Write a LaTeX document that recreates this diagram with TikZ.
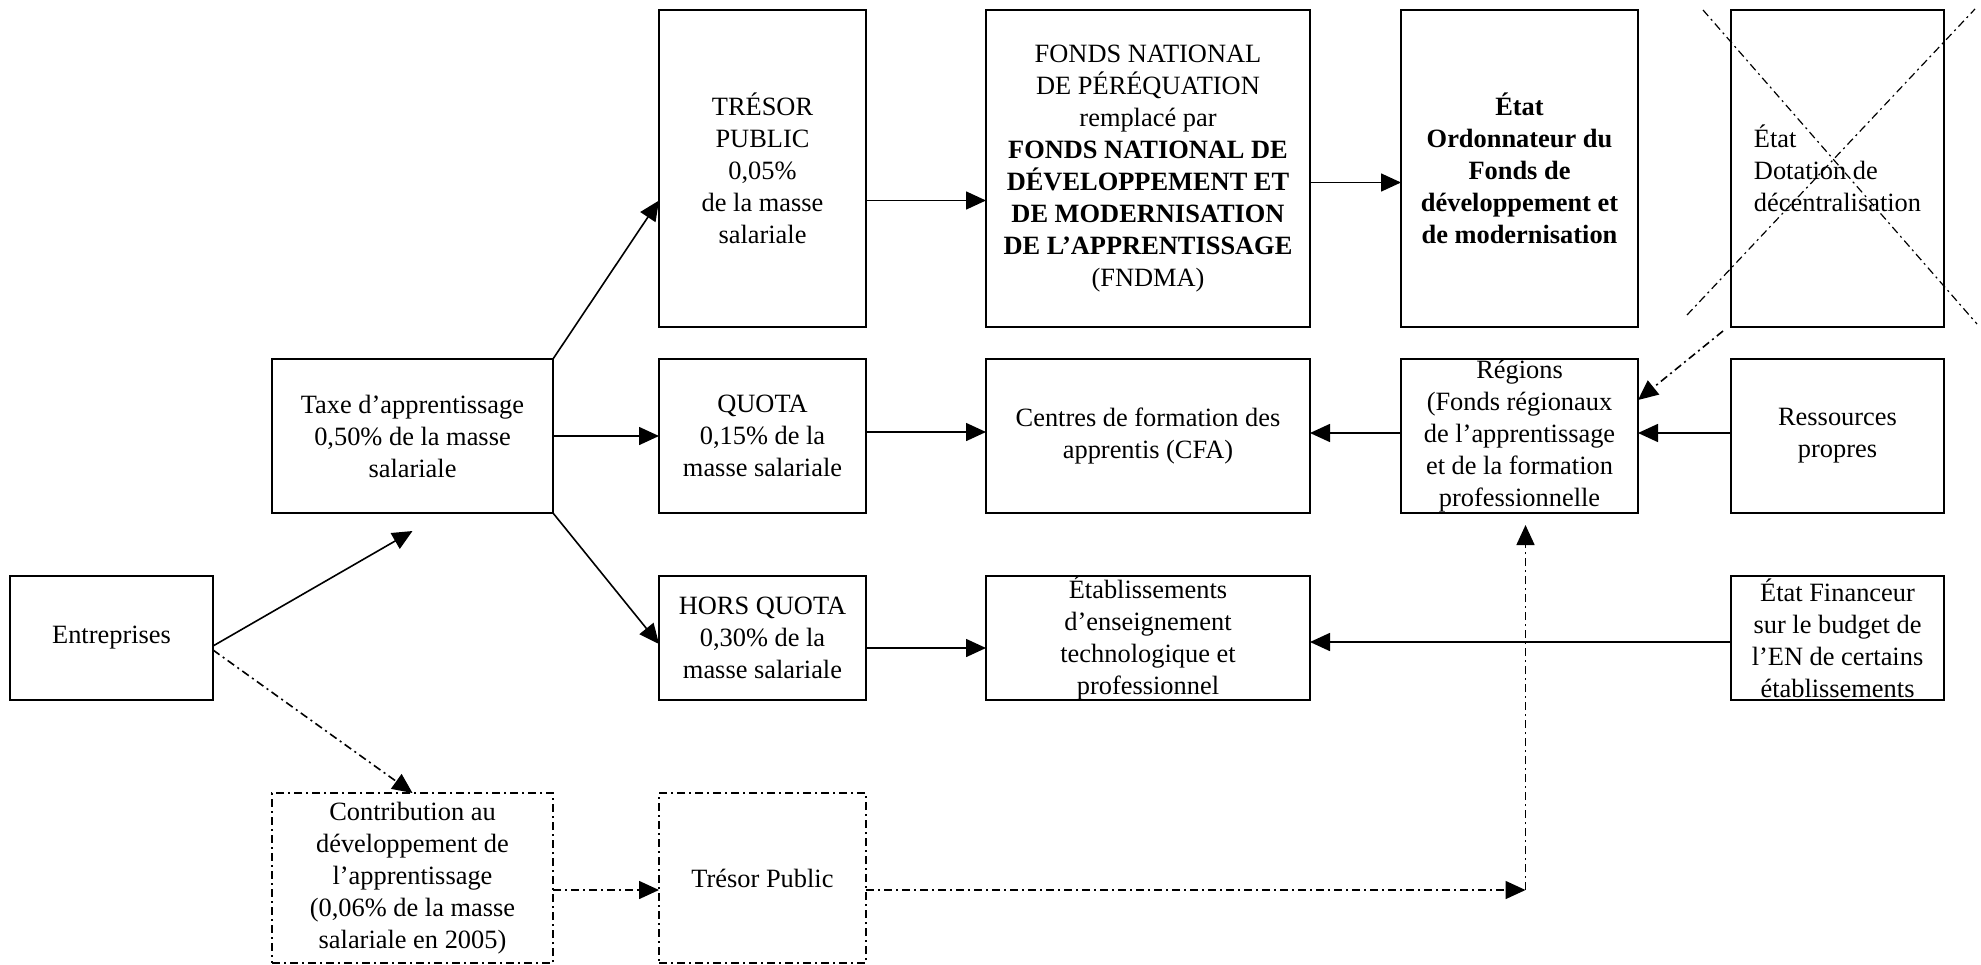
\documentclass[tikz,border=0pt]{standalone}
\usepackage{fontspec}
\setmainfont{Liberation Serif}
\usetikzlibrary{arrows.meta,positioning,calc}

\begin{document}
\begin{tikzpicture}[
  box/.style={draw, line width=1pt, align=center, inner xsep=3pt, inner ysep=0pt, outer sep=0pt, font=\fontsize{13.2}{16}\selectfont},
  dbox/.style={box, dash pattern=on 4pt off 2pt on 1pt off 2pt},
  tall/.style={minimum height=158.5pt},
  mid/.style={minimum height=77pt},
  low/.style={minimum height=62pt},
  base/.style={minimum height=85pt},
  arrow/.style={-{Triangle[length=10pt,width=9pt]}, line width=0.8pt},
  darrow/.style={arrow, dash pattern=on 4pt off 2pt on 1pt off 2pt},
  cross/.style={line width=0.6pt, dash pattern=on 4pt off 2pt on 1pt off 2pt}
]
\useasboundingbox (0,0) rectangle (990.5pt,-482pt);
\node[box, tall, minimum width=103.5pt, anchor=north west] (tresor) at (329.5pt,-5pt) {TRÉSOR\\PUBLIC\\0,05\%\\de la masse\\salariale};
\node[box, mid, minimum width=103.5pt, below=16pt of tresor] (quota) {QUOTA\\0,15\% de la\\masse salariale};
\node[box, low, minimum width=103.5pt, below=31.5pt of quota] (hors) {HORS QUOTA\\0,30\% de la\\masse salariale};
\node[dbox, base, minimum width=103.5pt, below=46.5pt of hors] (tresorpub) {Trésor Public};
\node[box, mid, minimum width=140.5pt, left=53pt of quota] (taxe) {Taxe d’apprentissage\\0,50\% de la masse\\salariale};
\node[dbox, base, minimum width=140.5pt, left=53pt of tresorpub] (contrib) {Contribution au\\développement de\\l’apprentissage\\(0,06\% de la masse\\salariale en 2005)};
\node[box, low, minimum width=101.5pt, left=223pt of hors] (ent) {Entreprises};
\node[box, tall, minimum width=162pt, right=60pt of tresor] (fonds) {FONDS NATIONAL\\DE PÉRÉQUATION\\remplacé par\\\textbf{FONDS NATIONAL DE}\\\textbf{DÉVELOPPEMENT ET}\\\textbf{DE MODERNISATION}\\\textbf{DE L’APPRENTISSAGE}\\(FNDMA)};
\node[box, mid, minimum width=162pt, right=60pt of quota] (centres) {Centres de formation des\\apprentis (CFA)};
\node[box, low, minimum width=162pt, right=60pt of hors] (etab) {Établissements\\d’enseignement\\technologique et\\professionnel};
\node[box, tall, minimum width=118.5pt, right=45.5pt of fonds, font=\fontsize{13.2}{16}\selectfont\bfseries] (etat) {État\\Ordonnateur du\\Fonds de\\développement et\\de modernisation};
\node[box, mid, minimum width=118.5pt, right=45.5pt of centres] (regions) {Régions\\(Fonds régionaux\\de l’apprentissage\\et de la formation\\professionnelle};
\node[box, tall, minimum width=106.5pt, right=46.5pt of etat, align=left] (dotation) {État\\Dotation de\\décentralisation};
\node[box, mid, minimum width=106.5pt, right=46.5pt of regions] (ress) {Ressources\\propres};
\node[box, low, minimum width=106.5pt, right=210.5pt of etab] (financeur) {État Financeur\\sur le budget de\\l’EN de certains\\établissements};
\draw[cross] ($(dotation.north west)+(-14pt,0)$) -- ($(dotation.south east)+(16.5pt,1.5pt)$);
\draw[cross] ($(dotation.south west)+(-22pt,6pt)$) -- ($(dotation.north east)+(15.5pt,0.5pt)$);
\draw[arrow] ($(ent.east)+(0,-4pt)$) -- ($(taxe.south)+(0,-9pt)$);
\draw[darrow] ($(ent.east)+(0,-6pt)$) -- (contrib.north);
\draw[arrow] (taxe.east) -- (quota.west);
\draw[arrow] (taxe.north east) -- ($(tresor.west)+(0,-16pt)$);
\draw[arrow] (taxe.south east) -- ($(hors.west)+(0,-3pt)$);
\draw[arrow] ($(tresor.east)+(0,-16pt)$) -- ($(fonds.west)+(0,-16pt)$);
\draw[arrow] ($(fonds.east)+(0,-7pt)$) -- ($(etat.west)+(0,-7pt)$);
\draw[arrow] ($(quota.east)+(0,2pt)$) -- ($(centres.west)+(0,2pt)$);
\draw[arrow] ($(regions.west)+(0,1.5pt)$) -- ($(centres.east)+(0,1.5pt)$);
\draw[arrow] ($(ress.west)+(0,1.5pt)$) -- ($(regions.east)+(0,1.5pt)$);
\draw[darrow] ($(dotation.south west)+(-4pt,-2pt)$) -- ($(regions.east)+(0,18pt)$);
\draw[arrow] ($(hors.east)+(0,-5pt)$) -- ($(etab.west)+(0,-5pt)$);
\draw[arrow] ($(financeur.west)+(0,-2pt)$) -- ($(etab.east)+(0,-2pt)$);
\draw[darrow] ($(contrib.east)+(0,-6pt)$) -- ($(tresorpub.west)+(0,-6pt)$);
\coordinate (jct) at ($(regions.south |- tresorpub.east)+(3pt,-6pt)$);
\draw[darrow] ($(tresorpub.east)+(0,-6pt)$) -- (jct);
\draw[darrow] (jct) -- ($(regions.south)+(3pt,-6pt)$);
\end{tikzpicture}
\end{document}
